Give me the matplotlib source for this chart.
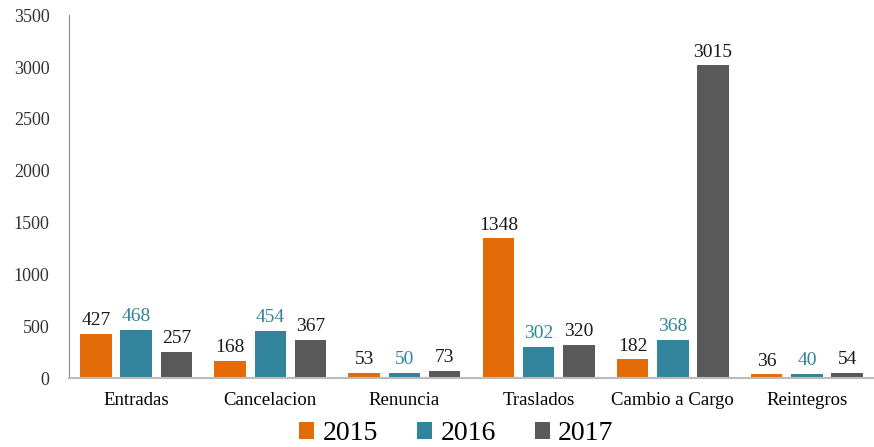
import numpy as np
import matplotlib
matplotlib.use("Agg")
import matplotlib.pyplot as plt

categories = ["Entradas", "Cancelacion", "Renuncia", "Traslados", "Cambio a Cargo", "Reintegros"]
years = ["2015", "2016", "2017"]
v2015 = [427, 168, 53, 1348, 182, 36]
v2016 = [468, 454, 50, 302, 368, 40]
v2017 = [257, 367, 73, 320, 3015, 54]

colors = ["#E36C09", "#31849B", "#595959"]
label_colors = ["#1a1a1a", "#31849B", "#1a1a1a"]

plt.rcParams["font.family"] = ["Liberation Serif", "DejaVu Serif"]

fig = plt.figure(figsize=(8.74, 4.47), dpi=100)
ax = fig.add_axes([0.079, 0.154, 0.921, 0.812])

x = np.arange(len(categories))
width = 0.235
offsets = [-0.30, 0.0, 0.30]
for vals, off, c, lc, yr in zip([v2015, v2016, v2017], offsets, colors, label_colors, years):
    bars = ax.bar(x + off, vals, width, color=c, label=yr)
    for b, v in zip(bars, vals):
        ax.text(b.get_x() + b.get_width() / 2, v + 45, str(v), ha="center", va="bottom",
                fontsize=14, color=lc)

ax.set_xlim(-0.5, len(categories) - 0.5)
ax.set_ylim(0, 3500)
ax.set_yticks(np.arange(0, 3501, 500))
ax.set_xticks(x)
ax.set_xticklabels(categories, fontsize=13.5)
ax.tick_params(axis="y", length=0, labelsize=13, pad=14, labelcolor="#333333")
ax.tick_params(axis="x", length=0, pad=10)
for s in ["top", "right"]:
    ax.spines[s].set_visible(False)
ax.spines["left"].set_color("#888888")
ax.spines["bottom"].set_color("#bbbbbb")
ax.spines["bottom"].set_linewidth(1.5)

fig.legend(*ax.get_legend_handles_labels(), loc="center", bbox_to_anchor=(0.522, 0.03), ncol=3,
           frameon=False, fontsize=20, handlelength=0.55, handleheight=0.55, handletextpad=0.3,
           columnspacing=1.4, borderpad=0)

fig.savefig("out.png", dpi=100)
